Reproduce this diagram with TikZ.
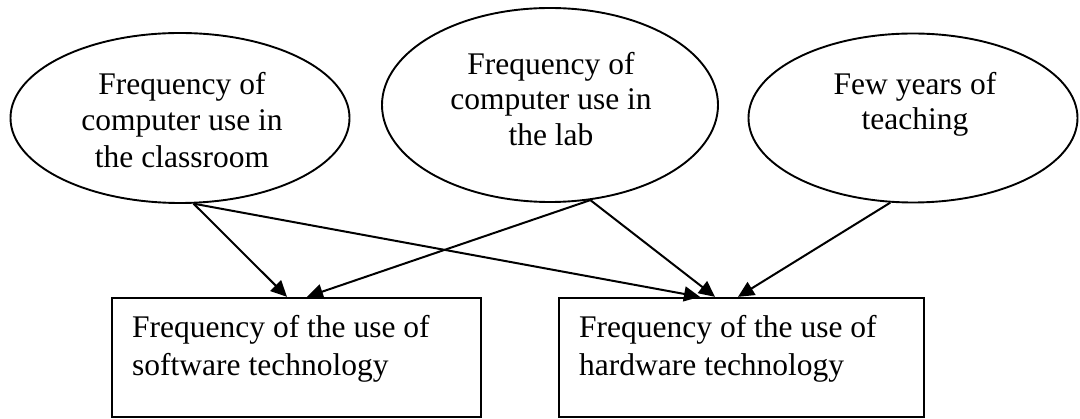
\documentclass[tikz,border=0pt]{standalone}
\usepackage{fontspec}
\setmainfont{Liberation Serif}
\usetikzlibrary{shapes.geometric,arrows.meta,calc}
\begin{document}
\begin{tikzpicture}[x=1pt,y=-1pt,
  oval/.style={draw,ellipse,line width=1.9pt,inner sep=0pt},
  boxnode/.style={draw,rectangle,line width=2.3pt,inner sep=0pt},
  txt/.style={font=\fontsize{31.5}{37}\selectfont,inner sep=0pt},
  conn/.style={line width=2pt,-{Triangle[length=16pt,width=15pt]}}]
\useasboundingbox (0,0) rectangle (1080,419);
% ellipses
\node[oval,minimum width=339pt,minimum height=170pt] (L) at (180,118) {};
\node[oval,minimum width=336pt,minimum height=194pt] (M) at (550,105) {};
\node[oval,minimum width=329pt,minimum height=169pt] (R) at (913,118) {};
% boxes
\node[boxnode,minimum width=369pt,minimum height=119pt] (S) at (296.5,357.5) {};
\node[boxnode,minimum width=365pt,minimum height=119pt] (H) at (741.5,357.5) {};
% ellipse texts
\node[txt,anchor=base] (L1) at (182,95) {Frequency of};
\node[txt,anchor=base] (L2) at (182,131) {computer use in};
\node[txt,anchor=base] (L3) at (182,168) {the classroom};
\node[txt,anchor=base] (M1) at (551,75) {Frequency of};
\node[txt,anchor=base] (M2) at (551,110) {computer use in};
\node[txt,anchor=base] (M3) at (551,146) {the lab};
\node[txt,anchor=base] (R1) at (915,95) {Few years of};
\node[txt,anchor=base] (R2) at (915,130) {teaching};
% box texts
\node[txt,anchor=base west] (S1) at (132,338) {Frequency of the use of};
\node[txt,anchor=base west] (S2) at (132,376) {software technology};
\node[txt,anchor=base west] (H1) at (579,338) {Frequency of the use of};
\node[txt,anchor=base west] (H2) at (579,376) {hardware technology};
% arrow targets
\coordinate (sa) at ($(S.north)+(-9.5,0)$);
\coordinate (sb) at ($(S.north)+(10.5,0)$);
\coordinate (ha) at ($(H.north)+(-41.5,0)$);
\coordinate (hb) at ($(H.north)+(-26.5,0)$);
\coordinate (hc) at ($(H.north)+(-3.5,0)$);
% connectors
\draw[conn] (L.-81) -- (sa);
\draw[conn] (L.-81) -- (ha);
\draw[conn] (M.-67) -- (sb);
\draw[conn] (M.-67) -- (hb);
\draw[conn] (R.-105) -- (hc);
\end{tikzpicture}
\end{document}
